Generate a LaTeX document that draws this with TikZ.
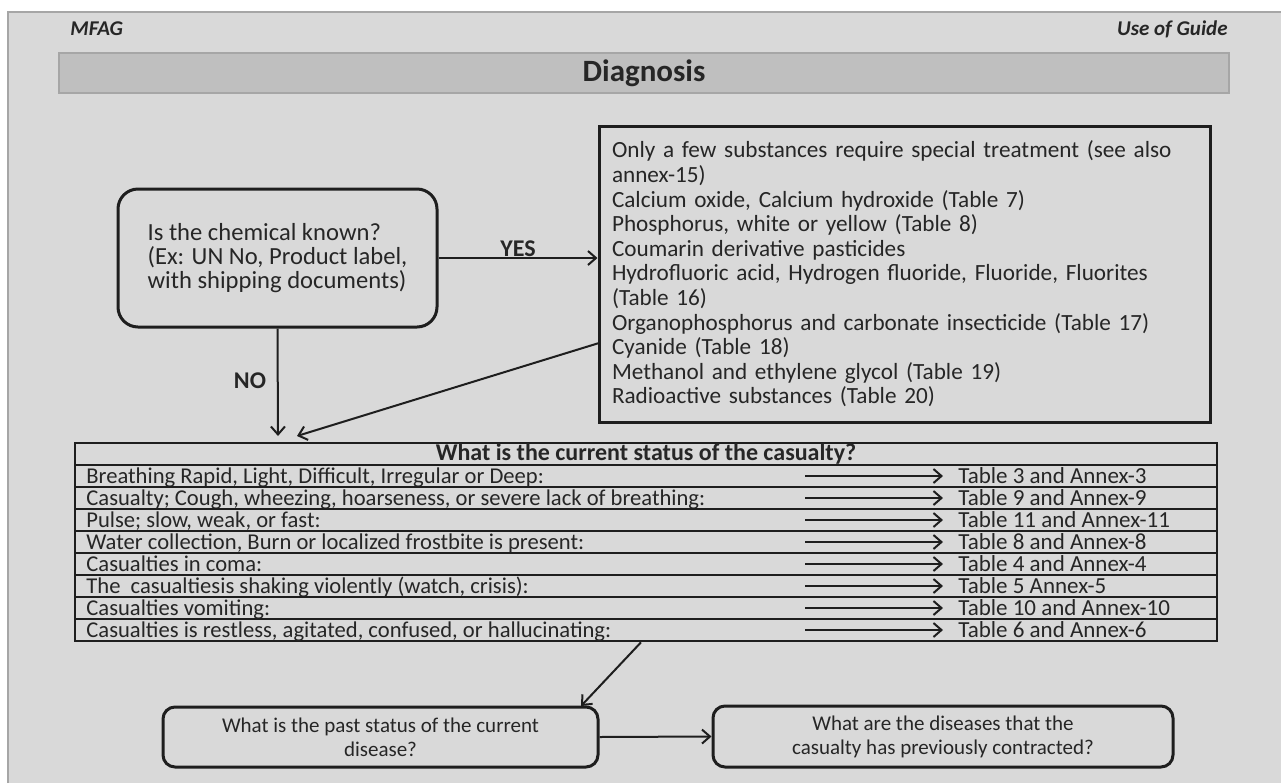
\documentclass[tikz,border=0pt]{standalone}
\usepackage{fontspec}
\setmainfont{Carlito}
\usetikzlibrary{arrows.meta}
\definecolor{my_panel}{HTML}{D9D9D9}
\definecolor{my_edge}{HTML}{A6A6A6}
\definecolor{my_bar}{HTML}{BFBFBF}
\definecolor{my_ink}{HTML}{1E1E1E}
\definecolor{my_text}{HTML}{262626}

\begin{document}
\begin{tikzpicture}[
    x=0.5pt, y=-0.5pt,
    every node/.style={text=my_text, font=\fontsize{11.6}{12.3}\selectfont},
    qbox/.style={draw=my_ink, line width=1.5pt, rounded corners=10pt},
    rowbox/.style={draw=my_ink, line width=1.3pt, minimum width=571pt,
                   minimum height=11pt, inner sep=0pt},
    rowtext/.style={anchor=base west, inner sep=0pt, font=\fontsize{11.3}{11}\selectfont},
    flow/.style={my_ink, line width=1pt, -{Straight Barb[length=4pt, width=7pt]}},
    lbl/.style={font=\fontsize{12}{12}\selectfont\bfseries}
]

% -------- Page panel ----------------------------------------
\useasboundingbox (0,0) rectangle (1281,783);
\fill[white] (0,0) rectangle (1281,783);
\fill[my_panel] (8,12) rectangle (1281,783);
\draw[my_edge, line width=1pt] (8,783) -- (8,12) -- (1281,12);

% -------- Running head and title bar ------------------------
\node[anchor=west, inner sep=0pt, font=\fontsize{10.5}{13}\selectfont\bfseries\itshape]
    (mfag) at (70,29) {MFAG};
\node[anchor=east, inner sep=0pt, font=\fontsize{10.5}{13}\selectfont\bfseries\itshape]
    (guide) at (1228,29) {Use of Guide};
\node[draw=my_edge, fill=my_bar, line width=1pt, minimum width=585pt,
      minimum height=18pt, font=\fontsize{15.5}{17}\selectfont\bfseries]
    (diag) at (644,73) {Diagnosis};

% -------- Known chemical? -----------------------------------
\node[qbox, minimum width=159.5pt, minimum height=69pt, align=left,
      font=\fontsize{12.3}{12}\selectfont]
    (known) at (277.5,258)
    {Is the chemical known?\\(Ex: UN No, Product label,\\with shipping documents)};

% Substances with special treatment
\node[draw=my_ink, line width=1.5pt, text width=292.5pt, inner xsep=6.5pt,
      minimum height=148pt, align=left]
    (subst) at (904.5,274)
    {Only a few substances require special treatment (see also\\
     annex-15)\\
     Calcium oxide, Calcium hydroxide (Table 7)\\
     Phosphorus, white or yellow (Table 8)\\
     Coumarin derivative pasticides\\
     Hydrofluoric acid, Hydrogen fluoride, Fluoride, Fluorites\\
     (Table 16)\\
     Organophosphorus and carbonate insecticide (Table 17)\\
     Cyanide (Table 18)\\
     Methanol and ethylene glycol (Table 19)\\
     Radioactive substances (Table 20)};

\node[lbl] (yes) at (518,249) {YES};
\node[lbl] (no)  at (250,381) {NO};
\coordinate (noend)  at (278,436);
\coordinate (sbout)  at (599,343);
\coordinate (sbend)  at (297,436);

\draw[flow] (known.east) -- (known.east -| subst.west);
\draw[flow] (known.south) -- (noend);
\draw[flow] (sbout) -- (sbend);

% -------- Current status table ------------------------------
\node[rowbox] (hdr) at (646,454) {};
\node[lbl] (hdrtext) at (hdr) {What is the current status of the casualty?};

\foreach \symptom/\target [count=\i] in {
    {Breathing Rapid, Light, Difficult, Irregular or Deep:}/{Table 3 and Annex-3},
    {Casualty; Cough, wheezing, hoarseness, or severe lack of breathing:}/{Table 9 and Annex-9},
    {Pulse; slow, weak, or fast:}/{Table 11 and Annex-11},
    {Water collection, Burn or localized frostbite is present:}/{Table 8 and Annex-8},
    {Casualties in coma:}/{Table 4 and Annex-4},
    {The~ casualtiesis shaking violently (watch, crisis):}/{Table 5 Annex-5},
    {Casualties vomiting:}/{Table 10 and Annex-10},
    {Casualties is restless, agitated, confused, or hallucinating:}/{Table 6 and Annex-6}} {
    \node[rowbox] (row\i) at (646,{454+22*\i}) {};
    \node[rowtext] (cond\i) at (86,{461+22*\i}) {\symptom};
    \node[rowtext, font=\fontsize{11.5}{11}\selectfont] (tab\i) at (958,{461+22*\i}) {\target};
    \coordinate (tail\i) at (805,{454+22*\i});
    \draw[flow, shorten >=7.5pt] (tail\i) -- (tail\i -| tab\i.west);
}

% -------- History questions ---------------------------------
\node[qbox, rounded corners=6pt, minimum width=217.5pt, minimum height=30pt, align=center,
      font=\fontsize{10.5}{12}\selectfont]
    (past) at (380.5,737) {What is the past status of the current\\disease?};
\node[qbox, rounded corners=6pt, minimum width=230pt, minimum height=30.5pt, align=center,
      font=\fontsize{10.5}{12}\selectfont]
    (disease) at (943,736.5) {What are the diseases that the\\casualty has previously contracted?};

\coordinate (pastin) at (581,706);
\draw[flow] ([xshift=-2.5pt]row8.south) -- (pastin);
\draw[flow] (past.east) -- (disease.west);

\end{tikzpicture}
\end{document}
